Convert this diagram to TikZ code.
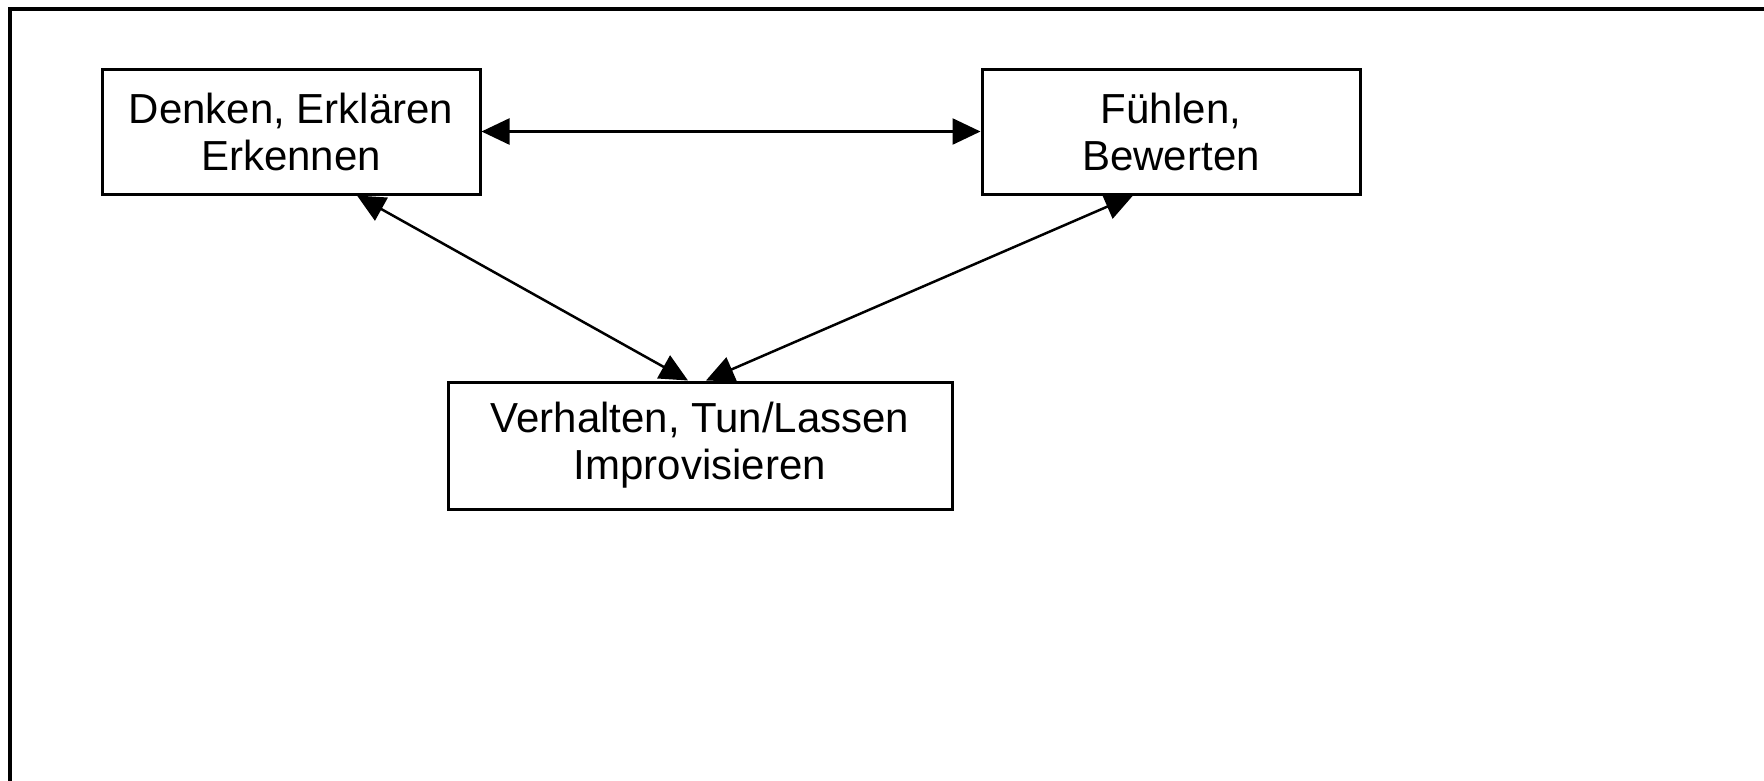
\documentclass[tikz,border=0pt]{standalone}
\usepackage{fontspec}
\setmainfont{Liberation Sans}
\usetikzlibrary{arrows.meta,calc}
\tikzset{
  box/.style={draw, line width=3pt, inner sep=0pt, align=center,
    font=\fontsize{42}{47}\selectfont},
  link/.style={line width=2.5pt, {Triangle[length=28pt,width=26pt]}-{Triangle[length=28pt,width=26pt]}},
  frame/.style={line width=3.5pt}
}
\begin{document}
\begin{tikzpicture}[x=1pt,y=-1pt]
\useasboundingbox (0,0) rectangle (1764,780);
\clip (0,0) rectangle (1764,780);
\fill[white] (0,0) rectangle (1764,780);
\draw[frame] (10,820) -- (10,9) -- (1800,9);

\node[box, minimum width=378pt, minimum height=125pt] (A) at (291,131.5) {Denken, Erklären\\Erkennen};
\node[box, minimum width=378pt, minimum height=125pt] (B) at (1171,131.5) {Fühlen,\\Bewerten};
\node[box, minimum width=504pt, minimum height=127pt] (C) at (700,445.5) {Verhalten, Tun/Lassen\\Improvisieren};

\draw[link] (A.east) -- (B.west);
\draw[link] ([xshift=66pt]A.south) -- ([xshift=-12pt]C.north);
\draw[link] ([xshift=-38pt]B.south) -- ([xshift=6pt]C.north);
\end{tikzpicture}
\end{document}
